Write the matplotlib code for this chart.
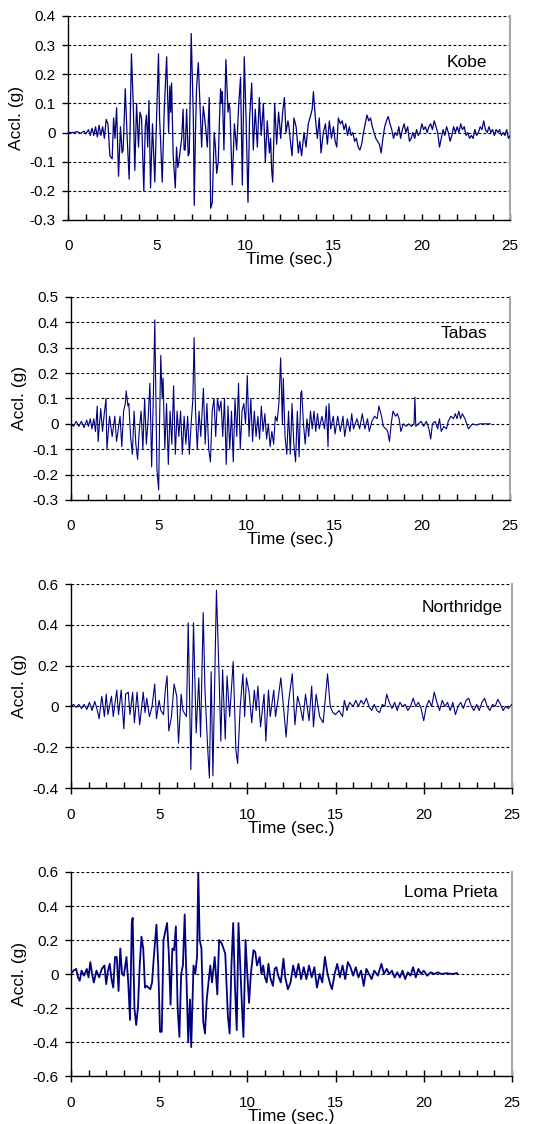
import numpy as np
import matplotlib
matplotlib.use('Agg')
from matplotlib import pyplot as plt
from matplotlib.ticker import MultipleLocator, FuncFormatter

plt.rcParams['font.family'] = ['Liberation Sans', 'DejaVu Sans']
plt.rcParams['axes.unicode_minus'] = False

#Records: (time in sec, acceleration in g)
kobe = [(0,0),(0.3,0.0),(0.5,0.003),(0.7,-0.003),(0.9,0.005),(1.0,-0.005),(1.15,0.01),(1.25,-0.01),(1.35,0.015),(1.45,-0.01),
        (1.55,0.02),(1.65,-0.015),(1.75,0.025),(1.85,-0.01),(1.95,0.02),(2.05,-0.02),(2.15,0.045),(2.25,0.03),(2.36,-0.08),(2.49,-0.09),
        (2.57,0.05),(2.65,-0.02),(2.74,0.085),(2.85,-0.15),(2.96,0.02),(3.05,-0.07),(3.11,-0.06),(3.23,0.15),(3.34,-0.02),(3.45,-0.16),
        (3.58,0.27),(3.68,0.10),(3.77,-0.13),(3.87,0.10),(3.98,-0.05),(4.06,0.07),(4.15,0.05),(4.28,-0.2),(4.36,0.02),(4.43,0.06),
        (4.5,-0.05),(4.57,0.11),(4.66,-0.19),(4.77,0.03),(4.84,-0.08),(4.9,-0.17),(5.0,0.05),(5.11,0.27),(5.17,0.05),(5.23,-0.03),
        (5.32,-0.17),(5.43,0.07),(5.57,0.26),(5.68,0.0),(5.75,0.16),(5.8,0.07),(5.85,0.17),(5.94,-0.08),(6.06,-0.19),(6.13,-0.05),
        (6.2,-0.12),(6.26,-0.1),(6.34,-0.06),(6.42,-0.02),(6.5,0.08),(6.56,-0.06),(6.62,-0.06),(6.7,0.08),(6.79,-0.08),(6.85,-0.07),
        (6.96,0.34),(7.08,0.05),(7.13,-0.25),(7.2,0.0),(7.26,0.15),(7.36,0.24),(7.45,0.1),(7.55,-0.05),(7.64,0.09),(7.7,0.06),
        (7.77,0.02),(7.87,-0.05),(7.98,0.12),(8.06,-0.26),(8.15,-0.24),(8.26,0.0),(8.33,-0.05),(8.4,-0.14),(8.49,-0.1),(8.56,0.05),
        (8.62,0.15),(8.67,0.1),(8.72,0.14),(8.81,-0.06),(8.92,0.25),(9.04,0.07),(9.1,0.1),(9.15,0.08),(9.28,-0.18),(9.4,0.03),
        (9.47,-0.02),(9.53,-0.06),(9.64,0.09),(9.75,0.19),(9.85,-0.18),(9.96,0.26),(10.06,0.05),(10.17,-0.24),(10.26,0.05),(10.38,0.17),
        (10.47,-0.06),(10.58,0.08),(10.7,-0.05),(10.81,0.12),(10.92,-0.01),(11.04,0.1),(11.15,-0.1),(11.26,0.04),(11.38,-0.07),(11.45,-0.02),
        (11.51,-0.13),(11.57,-0.17),(11.68,0.1),(11.79,-0.04),(11.9,0.07),(11.96,0.03),(12.02,-0.02),(12.13,0.07),(12.23,0.12),(12.32,0.0),
        (12.43,0.04),(12.49,0.02),(12.55,-0.02),(12.66,-0.08),(12.77,0.05),(12.89,0.02),(13.02,-0.07),(13.1,-0.03),(13.2,-0.08),(13.34,0.0),
        (13.45,-0.05),(13.58,0.03),(13.72,0.06),(13.8,0.08),(13.87,0.14),(13.98,0.05),(14.09,-0.02),(14.2,0.05),(14.3,-0.07),(14.43,0.0),
        (14.55,0.03),(14.66,-0.04),(14.77,0.04),(14.89,-0.02),(15.0,0.02),(15.1,-0.03),(15.19,-0.05),(15.28,0.05),(15.4,0.03),(15.5,0.04),
        (15.6,0.01),(15.7,0.03),(15.8,-0.01),(15.9,0.02),(16.0,-0.01),(16.1,0.0),(16.2,-0.03),(16.3,-0.02),(16.4,-0.05),(16.5,-0.06),
        (16.6,-0.04),(16.7,0.0),(16.8,0.03),(16.9,0.06),(17.0,0.04),(17.1,0.05),(17.2,0.02),(17.3,0.0),(17.4,-0.02),(17.5,-0.03),
        (17.6,-0.04),(17.7,-0.07),(17.8,-0.02),(17.9,0.02),(18.0,0.04),(18.1,0.055),(18.2,0.03),(18.3,0.01),(18.4,-0.02),(18.5,0.0),
        (18.6,-0.01),(18.7,0.02),(18.8,-0.02),(18.9,0.01),(19.0,0.03),(19.1,0.0),(19.2,0.02),(19.3,-0.03),(19.4,-0.02),(19.5,0.0),
        (19.6,-0.02),(19.7,0.01),(19.8,-0.01),(19.9,0.0),(20.0,0.03),(20.1,0.01),(20.2,0.02),(20.3,0.0),(20.4,0.02),(20.5,0.03),
        (20.6,0.01),(20.7,0.04),(20.8,0.02),(20.9,0.0),(21.0,-0.05),(21.1,-0.02),(21.2,0.01),(21.3,-0.01),(21.4,0.02),(21.5,0.0),
        (21.6,-0.03),(21.7,-0.01),(21.8,0.02),(21.9,0.0),(22.0,0.02),(22.1,0.0),(22.2,0.03),(22.3,0.01),(22.4,0.02),(22.5,-0.01),
        (22.6,0.0),(22.7,-0.02),(22.8,-0.01),(22.9,-0.02),(23.0,0.01),(23.1,-0.01),(23.2,0.0),(23.3,0.02),(23.4,0.01),(23.5,0.04),
        (23.6,0.01),(23.7,0.0),(23.8,0.02),(23.9,0.0),(24.0,0.01),(24.1,-0.01),(24.2,0.01),(24.3,0.0),(24.4,0.01),(24.5,-0.01),
        (24.6,0.0),(24.7,-0.01),(24.8,0.01),(24.9,-0.02),(25.0,-0.01)]

tabas = [(0,0),(0.15,-0.01),(0.3,0.01),(0.45,-0.01),(0.6,0.01),(0.75,-0.015),(0.9,0.015),(1.0,-0.01),(1.1,0.02),(1.2,-0.02),
         (1.3,0.02),(1.4,-0.03),(1.5,0.07),(1.55,-0.07),(1.7,0.06),(1.8,-0.03),(1.9,0.04),(2.0,0.1),(2.05,-0.1),(2.2,0.03),
         (2.35,-0.05),(2.5,0.03),(2.6,-0.07),(2.8,0.03),(2.9,-0.09),(3.0,0.05),(3.1,0.08),(3.15,0.13),(3.25,0.07),(3.3,0.08),
         (3.4,-0.05),(3.5,-0.12),(3.6,0.05),(3.7,-0.08),(3.8,-0.14),(3.9,-0.02),(4.0,0.05),(4.1,-0.1),(4.2,0.1),(4.3,-0.08),
         (4.4,0.02),(4.5,0.16),(4.6,-0.17),(4.7,0.12),(4.78,0.41),(4.85,0.05),(4.9,-0.18),(5.0,-0.26),(5.05,0.0),(5.12,0.27),
         (5.2,0.1),(5.25,0.18),(5.35,-0.1),(5.45,0.08),(5.55,-0.16),(5.65,0.05),(5.75,-0.08),(5.85,0.15),(5.95,-0.12),(6.05,0.05),
         (6.15,-0.05),(6.25,0.05),(6.35,-0.12),(6.45,0.03),(6.55,-0.08),(6.65,0.03),(6.75,-0.12),(6.85,0.0),(6.95,0.1),(7.02,0.34),
         (7.1,0.05),(7.2,-0.1),(7.3,0.05),(7.4,-0.05),(7.55,0.14),(7.65,-0.08),(7.75,0.08),(7.85,-0.1),(7.95,-0.15),(8.05,0.05),
         (8.15,0.1),(8.25,-0.05),(8.35,0.1),(8.45,0.05),(8.55,0.09),(8.65,-0.05),(8.75,0.1),(8.85,-0.16),(8.95,0.07),(9.05,-0.1),
         (9.15,0.05),(9.25,-0.15),(9.35,0.1),(9.45,-0.05),(9.55,0.16),(9.65,-0.1),(9.75,0.05),(9.85,0.08),(9.95,0.0),(10.05,0.19),
         (10.15,-0.05),(10.25,0.1),(10.35,-0.07),(10.45,0.05),(10.55,-0.05),(10.65,0.03),(10.75,-0.06),(10.85,0.07),(10.95,-0.03),(11.05,0.04),
         (11.15,-0.06),(11.25,0.0),(11.35,-0.09),(11.45,-0.03),(11.55,-0.08),(11.65,0.03),(11.75,0.01),(11.85,0.08),(11.95,0.26),(12.05,0.0),
         (12.1,0.18),(12.2,-0.05),(12.3,-0.12),(12.4,0.05),(12.5,-0.12),(12.6,0.08),(12.7,-0.08),(12.8,-0.15),(12.9,0.05),(13.0,-0.13),
         (13.1,0.12),(13.15,0.13),(13.25,0.0),(13.35,-0.08),(13.45,0.02),(13.55,-0.05),(13.65,0.05),(13.75,-0.02),(13.85,0.05),(13.95,-0.03),
         (14.05,0.04),(14.15,-0.02),(14.3,0.03),(14.45,-0.02),(14.55,0.07),(14.65,-0.09),(14.7,0.08),(14.8,-0.02),(14.95,0.03),(15.05,-0.04),
         (15.2,0.03),(15.35,-0.03),(15.5,0.03),(15.6,-0.05),(15.75,0.02),(15.9,-0.03),(16.0,0.04),(16.1,-0.02),(16.3,0.02),(16.45,-0.02),
         (16.6,0.04),(16.75,-0.02),(16.9,0.02),(17.0,-0.03),(17.15,0.01),(17.3,0.03),(17.45,0.02),(17.55,0.07),(17.7,0.03),(17.8,-0.01),
         (17.95,-0.02),(18.05,-0.03),(18.15,-0.07),(18.25,0.0),(18.35,0.05),(18.5,0.03),(18.6,0.04),(18.7,0.02),(18.8,-0.03),(18.95,0.0),
         (19.1,-0.01),(19.25,0.0),(19.4,-0.01),(19.55,0.0),(19.6,0.105),(19.65,-0.01),(19.8,0.0),(19.95,0.01),(20.1,-0.01),(20.25,0.01),
         (20.4,-0.02),(20.5,-0.06),(20.6,0.0),(20.75,0.01),(20.9,-0.02),(21.0,0.02),(21.1,-0.03),(21.25,-0.01),(21.4,-0.02),(21.5,0.01),
         (21.65,0.03),(21.8,0.02),(21.9,0.04),(22.0,0.02),(22.1,0.05),(22.2,0.02),(22.3,0.04),(22.45,0.02),(22.55,0.0),(22.65,-0.02),
         (22.75,-0.01),(22.9,0.0),(23.1,-0.005),(23.3,0.0),(23.6,0.0),(23.9,0.0)]

northridge = [(0,0),(0.15,0.01),(0.3,-0.005),(0.45,0.01),(0.6,-0.01),(0.75,0.01),(0.9,-0.015),(1.05,0.02),(1.2,-0.02),(1.35,0.025),
              (1.5,-0.02),(1.6,-0.06),(1.75,0.05),(1.9,-0.05),(2.0,0.06),(2.1,-0.04),(2.3,0.05),(2.4,-0.05),(2.6,0.08),(2.7,-0.04),
              (2.85,0.08),(3.0,-0.11),(3.1,0.06),(3.25,0.07),(3.35,-0.04),(3.5,0.07),(3.6,-0.08),(3.75,0.07),(3.9,-0.09),(4.1,0.07),
              (4.2,-0.03),(4.3,0.04),(4.45,-0.05),(4.6,0.0),(4.75,0.11),(4.85,-0.06),(5.0,0.03),(5.1,-0.02),(5.25,-0.04),(5.35,0.08),
              (5.45,0.15),(5.55,-0.12),(5.7,-0.05),(5.85,0.11),(6.0,0.05),(6.1,-0.18),(6.25,0.06),(6.35,-0.02),(6.55,-0.05),(6.65,0.41),
              (6.8,-0.31),(6.95,0.41),(7.1,-0.13),(7.25,0.14),(7.35,-0.15),(7.5,0.46),(7.6,0.08),(7.75,-0.2),(7.85,-0.35),(7.95,0.17),
              (8.05,-0.34),(8.25,0.57),(8.4,0.15),(8.5,-0.17),(8.6,0.18),(8.75,-0.16),(8.85,0.15),(9.0,-0.05),(9.2,0.22),(9.35,-0.21),
              (9.45,-0.28),(9.6,0.0),(9.75,0.16),(9.85,-0.05),(9.95,0.14),(10.1,0.07),(10.25,-0.08),(10.4,0.08),(10.5,-0.02),(10.6,0.1),
              (10.75,-0.1),(10.95,0.06),(11.05,-0.17),(11.2,0.08),(11.3,-0.05),(11.5,0.08),(11.6,-0.05),(11.75,0.04),(11.9,0.14),(12.05,0.0),
              (12.2,-0.15),(12.35,0.03),(12.55,0.16),(12.7,-0.09),(12.85,0.05),(13.0,0.0),(13.15,-0.07),(13.3,0.06),(13.5,-0.07),(13.65,0.1),
              (13.75,-0.1),(13.9,0.06),(14.1,-0.05),(14.3,-0.08),(14.55,0.16),(14.7,0.0),(14.85,-0.03),(15.0,-0.04),(15.2,-0.02),(15.4,-0.05),
              (15.5,0.03),(15.65,-0.02),(15.8,0.02),(16.0,0.0),(16.15,0.03),(16.3,0.0),(16.45,0.03),(16.6,0.01),(16.75,0.04),(16.9,0.0),
              (17.05,-0.02),(17.2,0.01),(17.35,-0.02),(17.5,-0.03),(17.65,0.01),(17.8,0.0),(17.9,0.06),(18.05,0.02),(18.2,-0.01),(18.35,0.02),
              (18.5,-0.02),(18.65,0.02),(18.8,0.0),(18.95,0.01),(19.1,-0.02),(19.25,0.0),(19.4,0.04),(19.55,0.0),(19.7,0.02),(19.85,-0.01),
              (20.0,-0.07),(20.15,0.0),(20.3,0.03),(20.45,0.0),(20.6,0.07),(20.75,0.02),(20.9,-0.02),(21.05,0.03),(21.2,0.0),(21.35,0.02),
              (21.5,-0.02),(21.65,0.02),(21.8,-0.04),(21.95,0.0),(22.1,0.02),(22.25,-0.01),(22.4,0.03),(22.55,0.04),(22.7,0.0),(22.85,-0.02),
              (23.0,0.01),(23.15,-0.02),(23.3,0.02),(23.45,0.04),(23.6,0.0),(23.75,-0.02),(23.9,0.01),(24.05,0.0),(24.2,0.035),(24.35,0.01),
              (24.5,-0.02),(24.65,0.0),(24.8,-0.01),(25.0,0.01)]

loma_prieta = [(0,0),(0.15,0.02),(0.3,0.03),(0.4,-0.02),(0.5,-0.04),(0.6,0.02),(0.75,-0.01),(0.9,0.03),(1.0,-0.02),(1.1,0.07),
               (1.2,0.0),(1.3,-0.05),(1.45,0.02),(1.6,-0.02),(1.75,0.03),(1.9,0.05),(2.0,-0.06),(2.1,0.02),(2.2,0.06),(2.3,-0.03),
               (2.4,-0.08),(2.5,0.1),(2.6,0.1),(2.7,-0.1),(2.8,0.15),(2.9,0.0),(3.0,-0.01),(3.15,0.1),(3.25,-0.05),(3.35,-0.27),
               (3.45,0.3),(3.5,0.33),(3.6,-0.2),(3.7,-0.3),(3.8,-0.2),(3.9,0.05),(4.0,0.22),(4.1,0.15),(4.2,-0.08),(4.3,-0.07),
               (4.5,-0.09),(4.6,-0.05),(4.7,0.1),(4.85,0.29),(4.95,0.05),(5.05,-0.34),(5.15,-0.34),(5.25,0.2),(5.35,0.25),(5.45,0.3),
               (5.55,0.12),(5.65,-0.18),(5.75,0.15),(5.85,0.14),(5.95,0.28),(6.05,-0.2),(6.15,-0.37),(6.25,0.0),(6.35,0.05),(6.45,0.35),
               (6.55,-0.02),(6.65,-0.4),(6.75,-0.15),(6.82,-0.43),(6.95,0.05),(7.05,0.0),(7.15,0.1),(7.22,0.6),(7.3,0.2),(7.4,0.15),
               (7.5,-0.28),(7.6,-0.35),(7.7,-0.15),(7.8,-0.05),(7.9,0.05),(8.0,-0.05),(8.15,0.1),(8.3,-0.12),(8.4,0.2),(8.55,0.18),
               (8.65,0.15),(8.75,0.12),(8.9,-0.25),(9.0,-0.35),(9.1,0.05),(9.2,0.3),(9.3,-0.07),(9.4,-0.33),(9.5,0.3),(9.6,0.05),
               (9.7,-0.2),(9.78,-0.37),(9.9,0.2),(10.0,0.0),(10.1,-0.17),(10.2,0.0),(10.35,0.14),(10.45,0.13),(10.55,0.05),(10.7,0.1),
               (10.8,0.0),(10.9,0.05),(11.0,-0.02),(11.1,-0.05),(11.2,0.06),(11.3,-0.02),(11.45,-0.07),(11.55,0.03),(11.65,0.04),(11.75,-0.01),
               (11.9,-0.05),(12.05,0.09),(12.15,-0.02),(12.3,-0.09),(12.45,-0.05),(12.6,0.05),(12.75,-0.02),(12.9,0.06),(13.05,-0.03),(13.2,0.04),
               (13.35,-0.03),(13.5,0.05),(13.65,-0.02),(13.8,0.04),(13.95,-0.08),(14.1,0.0),(14.25,-0.05),(14.4,0.1),(14.55,0.0),(14.7,-0.06),
               (14.8,-0.09),(14.95,0.0),(15.1,0.06),(15.25,-0.02),(15.4,0.05),(15.55,-0.03),(15.7,0.07),(15.85,0.04),(16.0,-0.01),(16.15,0.04),
               (16.3,-0.02),(16.45,0.02),(16.6,-0.07),(16.75,0.03),(16.9,0.0),(17.05,-0.03),(17.2,0.02),(17.4,-0.01),(17.6,0.06),(17.75,0.0),
               (17.9,0.03),(18.05,0.0),(18.2,0.02),(18.35,-0.02),(18.5,0.01),(18.65,-0.02),(18.8,0.02),(18.95,-0.03),(19.1,0.01),(19.25,-0.01),
               (19.4,0.04),(19.55,-0.02),(19.7,0.03),(19.85,0.0),(20.0,0.02),(20.2,-0.01),(20.4,0.01),(20.6,0.0),(20.8,0.01),(21.0,0.0),
               (21.3,0.005),(21.6,0.0),(21.9,0.005)]

names = ['Kobe', 'Tabas', 'Northridge', 'Loma Prieta']
records = [kobe, tabas, northridge, loma_prieta]
y_limits = [(-0.3, 0.4), (-0.3, 0.5), (-0.4, 0.6), (-0.6, 0.6)]
y_steps = [0.1, 0.1, 0.2, 0.2]

#Axes boxes in figure fractions (left, bottom, width, height)
boxes = [(0.123, 0.8043, 0.798, 0.1815),
         (0.128, 0.5552, 0.792, 0.1806),
         (0.128, 0.2989, 0.796, 0.1815),
         (0.128, 0.0427, 0.796, 0.1815)]
name_pos = [(0.948, 0.77), (0.948, 0.818), (0.98, 0.887), (0.968, 0.90)]
line_widths = [0.9, 0.8, 0.8, 1.3]
navy = '#000080'

fig = plt.figure(figsize=(5.54, 11.24), dpi=100)

def fmt(v, pos):
    if abs(v) < 1e-9:
        return '0'
    return '{:g}'.format(round(v, 2))

for i in range(4):
    ax = fig.add_axes(boxes[i])
    data = np.array(records[i])
    ax.plot(data[:, 0], data[:, 1], color=navy, lw=line_widths[i], zorder=3)

    ax.set_xlim(0, 25)
    ax.set_ylim(*y_limits[i])
    ax.xaxis.set_major_locator(MultipleLocator(5))
    ax.xaxis.set_minor_locator(MultipleLocator(1))
    ax.yaxis.set_major_locator(MultipleLocator(y_steps[i]))
    ax.yaxis.set_major_formatter(FuncFormatter(fmt))

    #dashed horizontal grid like the excel chart
    ax.yaxis.grid(True, color='black', linestyle=(0, (2.5, 2)), lw=0.8, zorder=1)
    gl = ax.get_ygridlines()
    gl[-1].set_color('#909090')
    ax.xaxis.grid(False)

    for s in ['left', 'bottom']:
        ax.spines[s].set_color('black')
        ax.spines[s].set_linewidth(1.0)
    ax.spines['top'].set_visible(False)
    ax.spines['right'].set_color('#a8a8a8')
    ax.spines['right'].set_linewidth(1.5)

    if i < 2:
        ax.tick_params(axis='x', which='both', direction='in', length=4, width=1, pad=14, labelsize=11)
    else:
        ax.tick_params(axis='x', which='major', direction='inout', length=9, width=1, pad=10, labelsize=11)
        ax.tick_params(axis='x', which='minor', direction='in', length=4, width=1)
    ax.tick_params(axis='y', which='major', direction='out', length=4, width=1, pad=5, labelsize=11)

    ax.set_xlabel('Time (sec.)', fontsize=12.5, labelpad=-1)
    ax.set_ylabel('Accl. (g)', fontsize=12.5, labelpad=4)
    ax.text(name_pos[i][0], name_pos[i][1], names[i], transform=ax.transAxes,
            ha='right', va='center', fontsize=12.5)

fig.savefig('out.png', dpi=100)
